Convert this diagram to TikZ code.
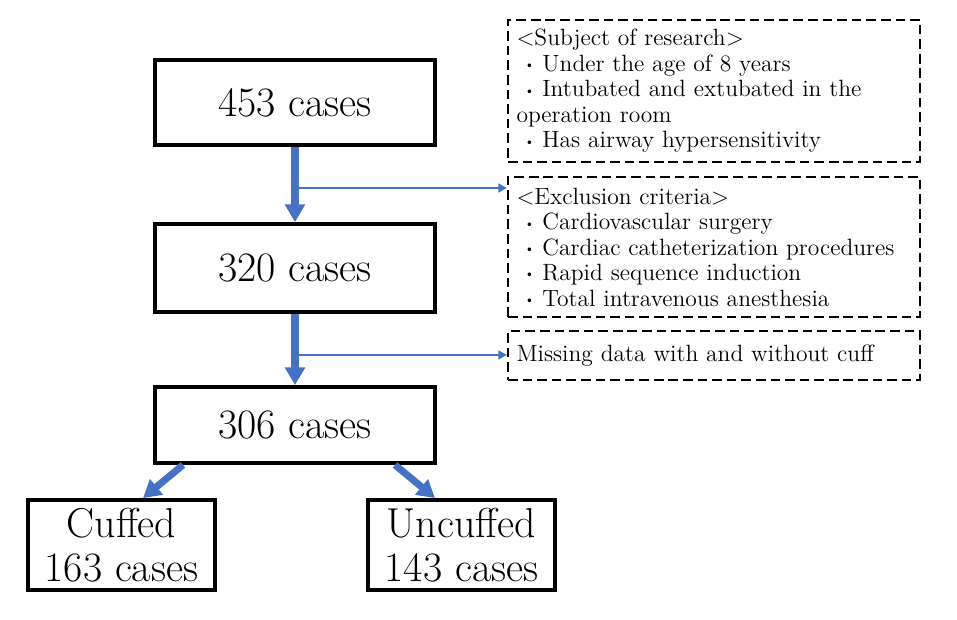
\documentclass[tikz,border=0pt]{standalone}
\usepackage{tikz}
\usetikzlibrary{arrows.meta}
\definecolor{flowblue}{HTML}{4472C4}
\newcommand{\itm}{\makebox[1.1em]{\raisebox{0.25ex}{\fontsize{7}{7}\selectfont\textbullet}}}

\begin{document}
\begin{tikzpicture}[
	mainbox/.style={draw,line width=2.2pt,minimum width=5.6cm,inner sep=0pt,align=center,font=\fontsize{23.8}{25}\selectfont},
	sidebox/.style={draw,line width=2.2pt,minimum width=3.74cm,minimum height=1.8cm,inner sep=0pt,align=center,font=\fontsize{23.8}{25}\selectfont},
	notebox/.style={draw,line width=1.1pt,dash pattern=on 5.5pt off 2.8pt,minimum width=8.24cm,text width=7.9cm,inner sep=0pt,align=left,font=\fontsize{13.4}{14.5}\selectfont},
	bigarrow/.style={flowblue,line width=4pt,-{Triangle[length=10pt,width=11pt]}},
	thinarrow/.style={flowblue,line width=1.4pt,-{Triangle[length=5pt,width=5pt]}}]
			\useasboundingbox (0,0) rectangle (19.14,12.38);
			
			\node[mainbox,minimum height=1.7cm] (n453) at (5.9,10.33) {453 cases};
			\node[mainbox,minimum height=1.76cm] (n320) at (5.9,7.02) {320 cases};
			\node[mainbox,minimum height=1.52cm] (n306) at (5.9,3.88) {306 cases};
			\node[sidebox] (cuffed) at (2.43,1.48) {Cuffed\\163 cases};
			\node[sidebox] (uncuffed) at (9.23,1.48) {Uncuffed\\143 cases};
			
			\node[notebox,minimum height=2.84cm] (subject) at (14.28,10.56) {%
				<Subject of research>\\
				\itm Under the age of 8 years\\
				\itm Intubated and extubated in the\\
				operation room\\
				\itm Has airway hypersensitivity};
			\node[notebox,minimum height=2.8cm] (exclusion) at (14.28,7.44) {%
				<Exclusion criteria>\\
				\itm Cardiovascular surgery\\
				\itm Cardiac catheterization procedures\\
				\itm Rapid sequence induction\\
				\itm Total intravenous anesthesia};
			\node[notebox,minimum height=0.98cm] (missing) at (14.28,5.27) {Missing data with and without cuff};
			
			\coordinate (b1) at (5.9,8.62);
			\coordinate (b2) at (5.9,5.28);
			
			\draw[bigarrow] (n453) -- (n320);
			\draw[thinarrow] (b1) -- (b1 -| exclusion.west);
			\draw[bigarrow] (n320) -- (n306);
			\draw[thinarrow] (b2) -- (b2 -| missing.west);
			\draw[bigarrow] ([xshift=-2.24cm]n306.south) -- ([xshift=0.43cm]cuffed.north);
			\draw[bigarrow] ([xshift=2cm]n306.south) -- ([xshift=-0.53cm]uncuffed.north);
		\end{tikzpicture}
\end{document}
